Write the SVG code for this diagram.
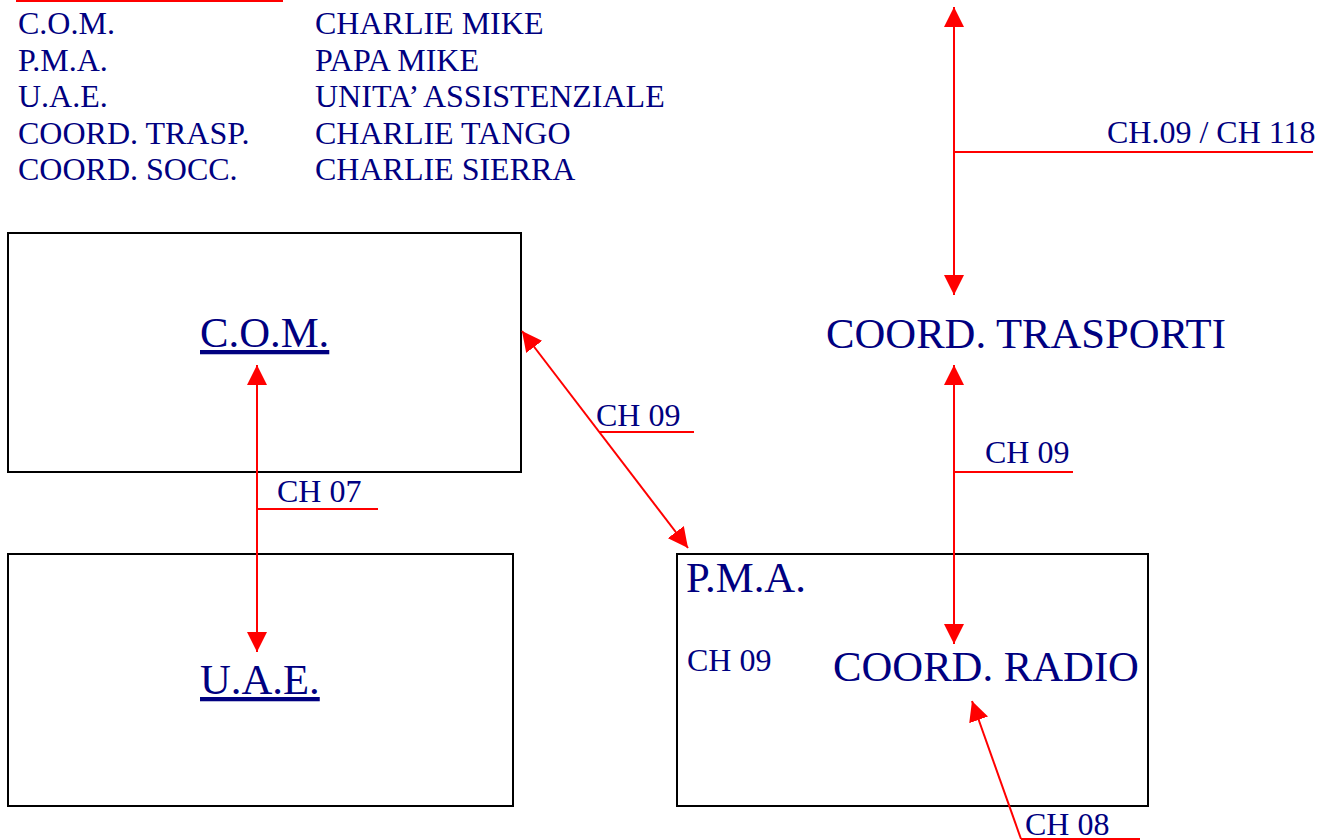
<svg xmlns="http://www.w3.org/2000/svg" width="1337" height="840" viewBox="0 0 1337 840">
<style>
.t{font-family:"Liberation Serif","Times New Roman",serif;fill:#000080}
.s{font-size:32px}
.b{font-size:42.7px}
.u{text-decoration:underline}
.box{fill:none;stroke:#000;stroke-width:2}
.c{stroke:#f00;stroke-width:2;fill:none}
.lbl{stroke:#f00;stroke-width:2}
</style>
<defs>
<marker id="ah" markerUnits="userSpaceOnUse" markerWidth="20" markerHeight="20" refX="20" refY="10" orient="auto-start-reverse" viewBox="0 0 20 20">
<path d="M0,0 L20,10 L0,20 Z" fill="#f00"/>
</marker>
</defs>
<rect width="1337" height="840" fill="#fff"/>
<line x1="16" y1="1" x2="283" y2="1" stroke="#f00" stroke-width="2"/>
<g id="legend" class="t s">
<text x="18" y="34">C.O.M.</text>
<text x="315" y="34">CHARLIE MIKE</text>
<text x="18" y="70.5">P.M.A.</text>
<text x="315" y="70.5">PAPA MIKE</text>
<text x="18" y="107">U.A.E.</text>
<text x="315" y="107">UNITA’ ASSISTENZIALE</text>
<text x="18" y="143.5">COORD. TRASP.</text>
<text x="315" y="143.5">CHARLIE TANGO</text>
<text x="18" y="180">COORD. SOCC.</text>
<text x="315" y="180">CHARLIE SIERRA</text>
</g>
<g id="com">
<rect class="box" x="8" y="233" width="513" height="239"/>
<text class="t b u" x="200" y="347">C.O.M.</text>
</g>
<g id="uae">
<rect class="box" x="8" y="554" width="505" height="252"/>
<text class="t b u" x="200" y="694">U.A.E.</text>
</g>
<g id="pma">
<rect class="box" x="677" y="554" width="471" height="252"/>
<text class="t b" x="686" y="592">P.M.A.</text>
<text class="t s" x="687" y="671">CH 09</text>
</g>
<g id="coord-radio">
<text class="t b" x="833" y="681">COORD. RADIO</text>
</g>
<g id="coord-trasporti">
<text class="t b" x="826" y="348">COORD. TRASPORTI</text>
</g>
<g id="connectors">
<line class="c" x1="257" y1="365" x2="257" y2="652" marker-start="url(#ah)" marker-end="url(#ah)"/>
<line class="lbl" x1="257" y1="509" x2="378" y2="509"/>
<text class="t s" x="277" y="502">CH 07</text>
<line class="c" x1="522" y1="331" x2="688" y2="548" marker-start="url(#ah)" marker-end="url(#ah)"/>
<line class="lbl" x1="599" y1="432" x2="694" y2="432"/>
<text class="t s" x="596" y="426">CH 09</text>
<line class="c" x1="954" y1="7" x2="954" y2="295" marker-start="url(#ah)" marker-end="url(#ah)"/>
<line class="lbl" x1="954" y1="152" x2="1313" y2="152"/>
<text class="t s" x="1107" y="143">CH.09 / CH 118</text>
<line class="c" x1="954" y1="365" x2="954" y2="644" marker-start="url(#ah)" marker-end="url(#ah)"/>
<line class="lbl" x1="954" y1="472" x2="1073" y2="472"/>
<text class="t s" x="985" y="463">CH 09</text>
<line class="c" x1="1021" y1="839" x2="972" y2="701" marker-end="url(#ah)"/>
<line class="lbl" x1="1021" y1="839" x2="1140" y2="839"/>
<text class="t s" x="1025" y="835">CH 08</text>
</g>
</svg>
